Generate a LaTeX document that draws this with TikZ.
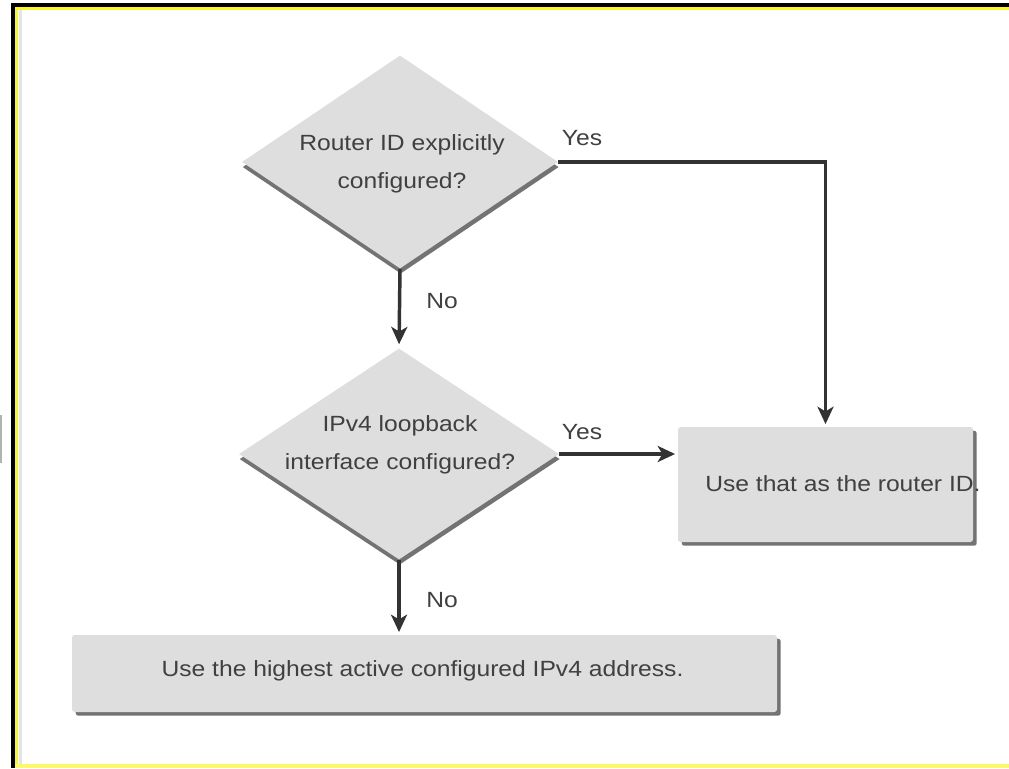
\documentclass[tikz,border=0pt]{standalone}
\usepackage{fontspec}
\setmainfont{Liberation Sans}
\newfontfamily\labfont[FakeStretch=1.12]{Liberation Sans}
\usetikzlibrary{arrows.meta,shapes.geometric,shadows}
\definecolor{shapefill}{RGB}{222,222,222}
\definecolor{shadowgray}{RGB}{115,115,115}
\definecolor{txt}{RGB}{64,64,64}
\definecolor{linec}{RGB}{51,51,51}
\definecolor{frameyellow}{RGB}{250,245,40}
\definecolor{innergray}{RGB}{228,228,228}
\tikzset{
  decision/.style={diamond, fill=shapefill, inner sep=0pt,
    drop shadow={shadow xshift=0.5pt, shadow yshift=-3.8pt, fill=shadowgray, opacity=1}},
  actionbox/.style={rectangle, rounded corners=2pt, fill=shapefill, inner sep=0pt,
    drop shadow={shadow xshift=2.8pt, shadow yshift=-2.8pt, fill=shadowgray, opacity=1}},
  txtstyle/.style={text=txt, font=\labfont\fontsize{16.5}{28.5}\selectfont, align=center, inner sep=0pt},
  flow/.style={draw=linec, line width=2.6pt, -{Stealth[length=13pt, width=12pt, inset=3.5pt]}},
}
\begin{document}
\begin{tikzpicture}[x=0.75pt, y=-0.75pt]
\useasboundingbox (0,0) rectangle (1009,768);
% frame
\fill[white] (0,0) rectangle (1009,768);
\fill[black] (11,3) rectangle (15,768);
\fill[black] (11,3) rectangle (1009,7);
\fill[frameyellow] (15,7) rectangle (1009,9.5);
\fill[frameyellow] (15,7) rectangle (18,768);
\fill[frameyellow!70] (15,764) rectangle (1009,768);
\fill[innergray] (19,10) rectangle (22,764);
\fill[gray!60] (0,415) rectangle (2,463);
% shapes
\node[decision, minimum width=237pt, minimum height=159.75pt] (d1) at (400,162) {};
\node[decision, minimum width=240pt, minimum height=158.25pt] (d2) at (399,454) {};
\node[actionbox, minimum width=221.25pt, minimum height=86.25pt] (b1) at (825.5,484.5) {};
\node[actionbox, minimum width=528.75pt, minimum height=57.75pt] (b2) at (424.5,673.5) {};
% texts
\node[txtstyle] (t1) at (402,164) {Router ID explicitly\\configured?};
\node[txtstyle] (t2) at (400,445) {IPv4 loopback\\interface configured?};
\node[txtstyle, anchor=west] (t3) at (705,484) {Use that as the router ID.};
\node[txtstyle] (t4) at (422.5,671) {Use the highest active configured IPv4 address.};
% connectors
\draw[flow, shorten >=3pt] (d1.south) -- (d2.north);
\draw[flow, shorten >=2pt] (d2.south) -- (d2.south |- b2.north);
\draw[flow, shorten >=2pt] (d1.east) -| (b1.north);
\draw[flow, shorten >=2pt] (d2.east) -- (d2.east -| b1.west);
% labels
\node[txtstyle] (y1) at (582,138) {Yes};
\node[txtstyle] (n1) at (442,301) {No};
\node[txtstyle] (y2) at (582,432) {Yes};
\node[txtstyle] (n2) at (442,600) {No};
\end{tikzpicture}
\end{document}
